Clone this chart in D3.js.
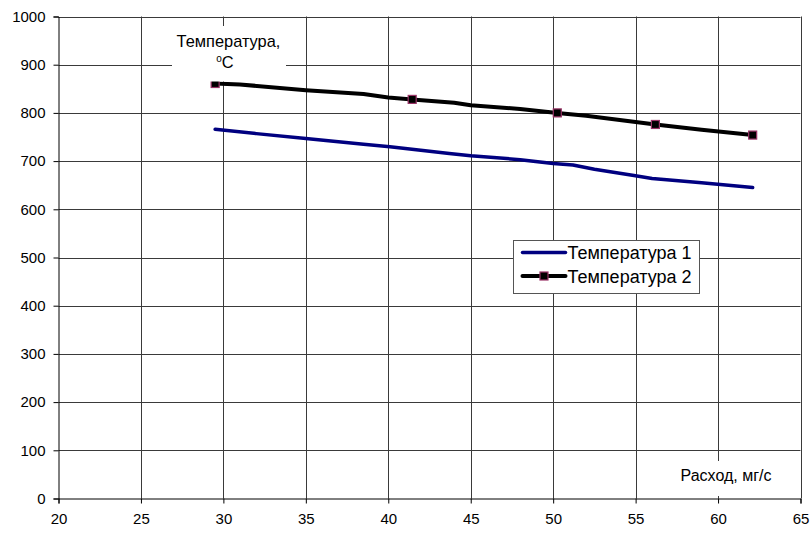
<!DOCTYPE html>
<html>
<head>
<meta charset="utf-8">
<script src="https://cdn.jsdelivr.net/npm/d3@7"></script>
<style>
  body { margin: 0; background: #fff; }
  svg { display: block; font-family: Arial, "Liberation Sans", sans-serif; }
</style>
</head>
<body>
<svg id="chart" width="811" height="533"></svg>
<script>
// Flow rate (mg/s) and measured temperatures (°C)
const flow1 = [29.5, 32, 35, 38.5, 40.1, 43.7, 45, 48, 50, 51.2, 52.5, 54.9, 56, 59, 62.1];
const temp1 = [766, 757, 747, 735, 730, 716, 711, 703, 695, 692, 683, 670, 664, 655, 645];

const flow2 = [29.5, 31, 35, 38.5, 40, 41.45, 44, 45, 48, 50.25, 52, 56.2, 59, 62.1];
const temp2 = [861, 859, 847, 839, 832, 828, 821, 816, 808, 800, 794, 776, 765, 754];
// indices of temp2 readings shown with a marker
const marked2 = [0, 5, 9, 11, 13];

const xTicks = [20, 25, 30, 35, 40, 45, 50, 55, 60, 65];
const yTicks = [0, 100, 200, 300, 400, 500, 600, 700, 800, 900, 1000];
const seriesNames = ["Температура 1", "Температура 2"];

const svg = d3.select("#chart");
const plotL = 58.5, plotR = 800.5, plotT = 16.5, plotB = 498.5;

const x = d3.scaleLinear().domain([20, 65]).range([plotL, plotR]);
const y = d3.scaleLinear().domain([0, 1000]).range([plotB, plotT]);

// grid
const grid = svg.append("g").attr("stroke", "#3a3a3a").attr("stroke-width", 1);
grid.selectAll(".vg").data(xTicks.slice(1)).join("line")
  .attr("x1", d => Math.round(x(d)) + 0.5).attr("x2", d => Math.round(x(d)) + 0.5)
  .attr("y1", plotT).attr("y2", plotB);
grid.selectAll(".hg").data(yTicks.slice(1)).join("line")
  .attr("y1", d => Math.round(y(d)) + 0.5).attr("y2", d => Math.round(y(d)) + 0.5)
  .attr("x1", plotL).attr("x2", plotR);

// axes
const xAxis = d3.axisBottom(x).tickValues(xTicks).tickSize(5).tickPadding(10).tickFormat(d3.format("d"));
const yAxis = d3.axisLeft(y).tickValues(yTicks).tickSize(5).tickPadding(8).tickFormat(d3.format("d"));

const gx = svg.append("g").attr("transform", `translate(0,${plotB})`).call(xAxis);
const gy = svg.append("g").attr("transform", `translate(${plotL},0)`).call(yAxis);
[gx, gy].forEach(g => {
  g.attr("font-family", null).attr("font-size", 15);
  g.select(".domain").attr("stroke", "#000");
  g.selectAll(".tick line").attr("stroke", "#000");
  g.selectAll(".tick text").attr("fill", "#000");
});

// x-axis caption with white backing box
svg.append("rect").attr("x", 670).attr("y", 461).attr("width", 112).attr("height", 35).attr("fill", "#fff");
svg.append("text").attr("x", 726).attr("y", 481).attr("text-anchor", "middle")
  .attr("font-size", 16).text("Расход, мг/с");

// series
const line = d3.line().x(d => x(d[0])).y(d => y(d[1]));
const s1 = flow1.map((f, i) => [f, temp1[i]]);
const s2 = flow2.map((f, i) => [f, temp2[i]]);

svg.append("path").datum(s1).attr("d", line).attr("fill", "none")
  .attr("stroke", "#000080").attr("stroke-width", 3.5).attr("stroke-linejoin", "round").attr("stroke-linecap", "round");
svg.append("path").datum(s2).attr("d", line).attr("fill", "none")
  .attr("stroke", "#000").attr("stroke-width", 4).attr("stroke-linejoin", "round");

const ms = 8;
svg.selectAll(".mk").data(marked2.map(i => s2[i])).join("rect")
  .attr("x", d => x(d[0]) - ms / 2).attr("y", d => y(d[1]) - ms / 2)
  .attr("width", ms).attr("height", ms)
  .attr("fill", "#000").attr("stroke", "#993366").attr("stroke-width", 1.2);

// y-axis caption, its white box sits over the plot
svg.append("rect").attr("x", 172).attr("y", 26).attr("width", 114).attr("height", 55.5).attr("fill", "#fff");
svg.append("text").attr("x", 228.5).attr("y", 47).attr("text-anchor", "middle")
  .attr("font-size", 16.4).text("Температура,");
const deg = svg.append("text").attr("x", 225).attr("y", 68).attr("text-anchor", "middle").attr("font-size", 16.4);
deg.append("tspan").attr("font-size", 10).attr("dy", -6).text("o");
deg.append("tspan").attr("dy", 6).text("C");

// legend
const lg = svg.append("g").attr("transform", "translate(513.5,240.5)");
lg.append("rect").attr("width", 186).attr("height", 53).attr("fill", "#fff").attr("stroke", "#555");
const rows = lg.selectAll(".row").data(seriesNames).join("g")
  .attr("transform", (d, i) => `translate(0,${12 + i * 23.5})`);
rows.append("line").attr("x1", 9).attr("x2", 52).attr("y1", 0).attr("y2", 0)
  .attr("stroke", (d, i) => i === 0 ? "#000080" : "#000").attr("stroke-width", (d, i) => i === 0 ? 3.5 : 4)
  .attr("stroke-linecap", "round");
rows.filter((d, i) => i === 1).append("rect")
  .attr("x", 30.5 - ms / 2).attr("y", -ms / 2).attr("width", ms).attr("height", ms)
  .attr("fill", "#000").attr("stroke", "#993366").attr("stroke-width", 1.2);
rows.append("text").attr("x", 54).attr("y", 6.5).attr("font-size", 18).text(d => d);
</script>
</body>
</html>
